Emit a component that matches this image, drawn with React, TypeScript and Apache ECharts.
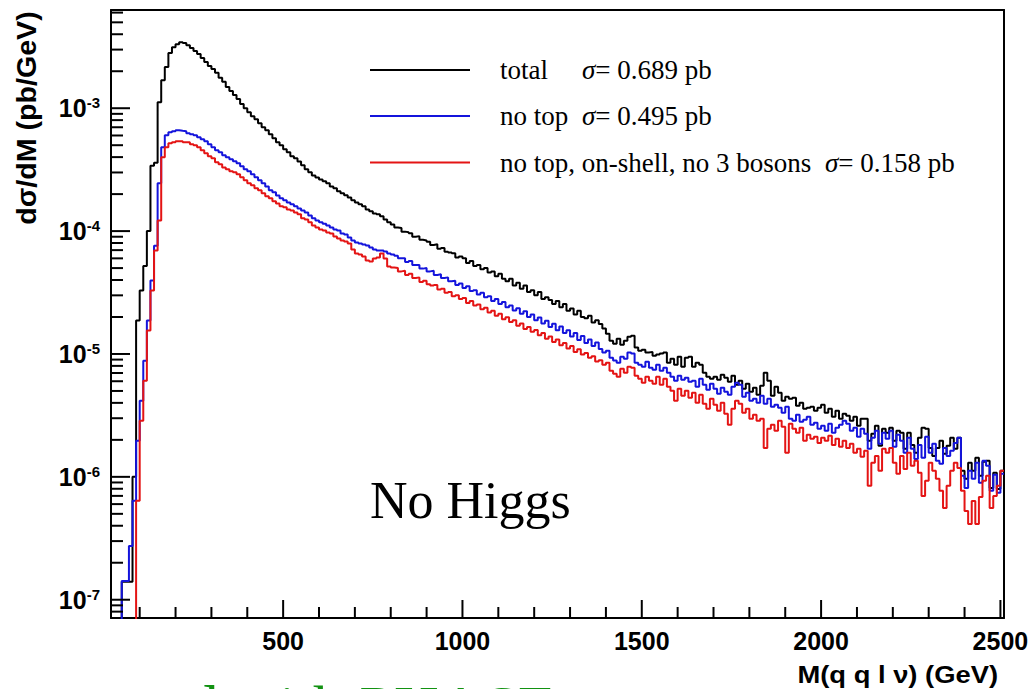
import { useEffect, useRef } from "react";
import * as echarts from "echarts";

// Differential cross sections dσ/dM, one value per 10 GeV bin starting at 20 GeV.
// Values are tabulated in units of 1e-6 pb/GeV.
const UNIT = 1e-6;
const BIN_LOW = 20;
const BIN_WIDTH = 10;

const totalXsec = [
  0.03, 0.03, 0.03, 0.14, 0.14, 0.14, 1.0, 18.7, 32.8, 52,
  100, 340, 360, 1120, 1690, 2160, 2810, 3140, 3320, 3450,
  3390, 3260, 3090, 2920, 2760, 2560, 2380, 2210, 2090, 1940,
  1770, 1640, 1490, 1380, 1280, 1190, 1080, 1000, 928, 861,
  814, 755, 700, 662, 614, 570, 528, 500, 463, 438,
  406, 391, 369, 343, 318, 301, 284, 273, 263, 254,
  245, 231, 223, 211, 203, 196, 188, 178, 171, 165,
  159, 150, 145, 139, 137, 132, 124, 118, 113, 107,
  106, 99, 98, 96, 90, 91, 85, 84, 82, 77,
  78, 72, 73, 68, 67, 66, 61, 62, 60, 55,
  57, 52, 53, 49, 50, 46, 47, 43, 45, 41,
  39, 41, 36, 38, 34, 36, 32, 33, 30, 32,
  28, 29, 27.5, 25.5, 27, 24, 25.5, 22.5, 23.5, 21,
  22.5, 20, 19.5, 20.5, 18, 18.8, 17.5, 16.1, 14.6, 12.8,
  12.1, 13.3, 11.9, 12.8, 13.8, 14.1, 11.3, 10.6, 10.8, 10.3,
  10.4, 9.69, 9.88, 10.1, 10.3, 8.5, 9.16, 8.18, 9.51, 7.88,
  9.33, 9.51, 7.88, 8.5, 8.18, 7.04, 6.53, 6.29, 6.53, 6.18,
  6.78, 6.41, 5.95, 6.66, 5.62, 6.06, 5.22, 5.73, 4.93, 5.32,
  4.66, 5.52, 7.04, 6.06, 4.57, 5.42, 4.84, 4.17, 4.49, 4.32,
  4.41, 3.79, 4.01, 3.58, 3.65, 3.72, 3.45, 3.65, 3.86, 3.32,
  3.58, 3.08, 3.45, 2.97, 3.26, 3.14, 2.86, 3.08, 2.6, 2.97,
  2.97, 1.97, 2.24, 2.6, 1.79, 2.46, 2.28, 2.51, 1.97, 2.37,
  2.28, 1.69, 2.28, 1.82, 1.57, 2.08, 2.51, 2.46, 1.72, 1.48,
  1.72, 1.97, 1.54, 1.79, 2.08, 1.69, 2.08, 1.12, 0.963, 1.3,
  1.12, 1.43, 1.02, 1.33, 1.35, 0.813, 1.08, 0.798, 1.12,
];

const noTop = [
  0.03, 0.03, 0.03, 0.142, 0.142, 0.274, 0.64, 1.97, 4.17, 8.8,
  18.7, 39.6, 76, 245, 481, 603, 638, 649, 662, 655,
  649, 626, 614, 603, 580, 559, 538, 509, 481, 455,
  438, 414, 399, 384, 370, 356, 337, 318, 307, 290,
  274, 259, 245, 231, 215, 207, 195, 185, 178, 171,
  165, 159, 153, 147, 142, 134, 127, 122, 118, 115,
  111, 107, 103, 101, 95.7, 94.0, 88.8, 83.9, 80.8, 79.3,
  77.9, 76.4, 73.6, 70.9, 69.6, 69.6, 68.3, 65.8, 64.6, 63,
  60, 60, 56, 57, 53, 53, 49.5, 50, 47, 47.5,
  44, 44.5, 41.5, 42, 39, 39.5, 36.5, 37.5, 34.5, 35.5,
  32.5, 33, 30.5, 31.5, 29, 29.5, 27, 28, 25.5, 26.5,
  24, 24.8, 22.6, 23.6, 21.2, 22.3, 20.0, 21.0, 18.8, 19.8,
  17.7, 18.6, 16.6, 17.6, 15.6, 16.7, 14.8, 15.6, 13.9, 14.8,
  13.0, 14.0, 12.3, 13.1, 11.6, 12.4, 11.0, 10.3, 10.6, 9.33,
  8.83, 8.5, 9.51, 9.16, 10.3, 10.1, 8.5, 8.18, 7.88, 8.66,
  7.74, 7.45, 8.18, 7.31, 7.74, 7.04, 6.53, 6.06, 6.66, 6.18,
  6.41, 5.95, 6.06, 5.42, 6.29, 5.62, 5.12, 5.73, 5.22, 4.75,
  5.32, 4.93, 4.66, 5.42, 5.84, 5.62, 4.49, 4.84, 4.17, 4.32,
  4.01, 4.57, 3.94, 4.32, 3.72, 3.86, 3.65, 3.32, 3.72, 2.97,
  2.86, 3.2, 2.81, 2.92, 3.08, 2.65, 2.76, 2.46, 2.6, 2.37,
  2.7, 2.28, 2.51, 2.65, 2.86, 2.7, 2.37, 2.51, 2.12, 2.46,
  2.24, 1.69, 2.08, 2.37, 1.86, 2.28, 2.04, 2.37, 1.76, 2.2,
  1.97, 1.57, 2.08, 1.69, 1.4, 1.82, 1.43, 2.12, 1.57, 1.86,
  1.35, 1.28, 1.72, 1.48, 1.63, 1.89, 2.08, 1.02, 0.813, 1.12,
  0.963, 1.3, 0.894, 1.35, 1.23, 0.769, 1.04, 0.741, 1.06,
];

const noTopOnShell = [
  0.03, 0.03, 0.03, 0.03, 0.03, 0.03, 0.03, 0.64, 2.86, 6.06,
  15.5, 32.8, 69.6, 122, 399, 481, 518, 528, 538, 538,
  528, 528, 509, 500, 481, 455, 430, 406, 391, 363,
  350, 330, 318, 307, 301, 290, 274, 259, 245, 236,
  223, 215, 203, 192, 185, 175, 168, 159, 156, 150,
  147, 142, 137, 127, 124, 118, 111, 107, 103, 101,
  97.5, 95.7, 90.4, 87.1, 83.9, 82.4, 79.3, 70.9, 65.8, 64.6,
  62.2, 57.7, 56.6, 59.9, 61.0, 65.8, 59.9, 51.5, 50.6, 50,
  47, 47.5, 44, 45, 41.5, 42, 38.5, 39.5, 37, 36,
  36.5, 33.5, 34, 31.5, 32, 29.5, 30, 28, 28.5, 26,
  27, 24.8, 25.3, 23.1, 23.8, 21.8, 22.5, 20.5, 21.2, 19.2,
  19.9, 18.2, 18.8, 17.0, 17.7, 16.0, 16.6, 15.2, 15.7, 14.2,
  14.8, 13.3, 13.9, 12.5, 13.1, 11.8, 12.3, 11.1, 11.6, 10.4,
  10.9, 9.9, 10.2, 9.3, 9.6, 8.7, 8.9, 8.18, 8.5, 7.31,
  6.91, 6.53, 7.59, 7.04, 7.88, 7.74, 6.66, 6.29, 5.84, 6.53,
  6.06, 5.73, 6.53, 5.62, 6.29, 5.42, 5.02, 4.17, 5.22, 4.57,
  5.02, 4.41, 4.84, 4.01, 4.66, 3.94, 3.58, 4.32, 3.86, 3.45,
  4.01, 3.26, 2.65, 3.58, 4.17, 3.94, 3.32, 3.58, 2.97, 3.2,
  2.86, 2.97, 1.72, 2.46, 2.65, 2.37, 2.86, 2.56, 1.57, 2.7,
  2.46, 2.28, 2.51, 1.97, 2.2, 2.04, 2.12, 1.89, 2.08, 1.97,
  2.16, 1.82, 2.04, 1.76, 1.97, 1.72, 1.86, 1.57, 1.69, 1.46,
  1.63, 0.845, 1.3, 1.48, 1.12, 1.69, 1.57, 1.72, 1.3, 1.06,
  1.48, 1.16, 1.57, 1.23, 1.35, 1.08, 0.7, 0.928, 1.3, 1.12,
  0.963, 0.769, 0.559, 0.845, 1.12, 1.3, 1.18, 0.769, 0.528, 0.414,
  0.637, 0.414, 0.687, 0.928, 1.02, 0.559, 0.7, 0.845, 1.12,
];

const seriesNames = ["total", "no top", "no top, on-shell, no 3 bosons"];
const sigmaLabels = ["0.689", "0.495", "0.158"];
const seriesColors = ["#000000", "#1414dc", "#e41414"];
const seriesValues = [totalXsec, noTop, noTopOnShell];

const X_MIN = 20;
const X_MAX = 2510;
const Y_MIN = 7.1e-8;
const Y_MAX = 6.3e-3;

const CHART_W = 1033;
const CHART_H = 689;
const GRID = { left: 111, right: 29, top: 10, bottom: 71 };

const SANS = "'Liberation Sans', Arial, sans-serif";
const SERIF = "'Liberation Serif', 'Times New Roman', serif";

// Histogram bins -> step points (lower edge of every bin plus the final upper edge).
function toSteps(values: number[]): number[][] {
  const pts = values.map((v, i) => [BIN_LOW + i * BIN_WIDTH, v * UNIT]);
  pts.push([BIN_LOW + values.length * BIN_WIDTH, values[values.length - 1] * UNIT]);
  return pts;
}

// Tick positions in the ROOT style: x every 100 GeV (labelled every 500),
// y at every decade with minor ticks at 2..9 x 10^n.
const xMajorTicks: number[] = [];
const xMinorTicks: number[] = [];
for (let m = 100; m < X_MAX; m += 100) {
  if (m % 500 === 0) xMajorTicks.push(m);
  else xMinorTicks.push(m);
}
const yMajorTicks: number[] = [];
const yMinorTicks: number[] = [];
for (let e = -8; e <= -3; e++) {
  const d = Math.pow(10, e);
  if (d > Y_MIN && d < Y_MAX) yMajorTicks.push(d);
  for (let k = 2; k <= 9; k++) {
    const v = k * d;
    if (v > Y_MIN && v < Y_MAX) yMinorTicks.push(v);
  }
}

const TICK_LEN = { xMajor: 18, xMinor: 11, yMajor: 19, yMinor: 12 };

// Same mappings as the grid's linear x axis and log10 y axis.
const PLOT_W = CHART_W - GRID.left - GRID.right;
const PLOT_H = CHART_H - GRID.top - GRID.bottom;
const xToPx = (x: number) => GRID.left + ((x - X_MIN) / (X_MAX - X_MIN)) * PLOT_W;
const yToPx = (y: number) =>
  GRID.top + ((Math.log10(Y_MAX) - Math.log10(y)) / (Math.log10(Y_MAX) - Math.log10(Y_MIN))) * PLOT_H;

function tickGraphics(): any[] {
  const seg = (x1: number, y1: number, x2: number, y2: number) => ({
    type: "line",
    z: 10,
    shape: { x1, y1, x2, y2 },
    style: { stroke: "#000", lineWidth: 2 },
  });
  const out: any[] = [];
  const yBottom = yToPx(Y_MIN);
  const xLeft = xToPx(X_MIN);
  xMajorTicks.forEach((m) => out.push(seg(xToPx(m), yBottom, xToPx(m), yBottom - TICK_LEN.xMajor)));
  xMinorTicks.forEach((m) => out.push(seg(xToPx(m), yBottom, xToPx(m), yBottom - TICK_LEN.xMinor)));
  yMajorTicks.forEach((v) => out.push(seg(xLeft, yToPx(v), xLeft + TICK_LEN.yMajor, yToPx(v))));
  yMinorTicks.forEach((v) => out.push(seg(xLeft, yToPx(v), xLeft + TICK_LEN.yMinor, yToPx(v))));
  return out;
}

// Legend rows drawn as graphic elements (line sample + rich text).
const LEGEND_ROWS_Y = [70, 116, 162.5];
const LEGEND_LINE_X = [370, 470];
const LEGEND_TEXT_X = 500;
const LEGEND_NAME_WIDTH = [82, 82, 325];

function legendGraphics() {
  const base = { fontFamily: SERIF, fontSize: 27, lineHeight: 30, fill: "#000" };
  const out: any[] = [];
  seriesNames.forEach((name, i) => {
    const y = LEGEND_ROWS_Y[i];
    out.push({
      type: "line",
      shape: { x1: LEGEND_LINE_X[0], y1: y, x2: LEGEND_LINE_X[1], y2: y },
      style: { stroke: seriesColors[i], lineWidth: 2 },
    });
    out.push({
      type: "text",
      x: LEGEND_TEXT_X,
      y,
      style: {
        text: `{n|${name}}{sg|σ}{v|= ${sigmaLabels[i]} pb}`,
        ...base,
        align: "left",
        verticalAlign: "middle",
        rich: {
          n: { ...base, width: LEGEND_NAME_WIDTH[i] },
          sg: { ...base, fontStyle: "italic" },
          v: { ...base },
        },
      },
    });
  });
  return out;
}

function textGraphics(): any[] {
  return [
    {
      type: "text",
      x: 27,
      y: 118,
      rotation: Math.PI / 2,
      scaleX: 1.06,
      style: {
        text: "dσ/dM (pb/GeV)",
        fontFamily: SANS,
        fontWeight: "bold",
        fontSize: 27,
        fill: "#000",
        align: "center",
        verticalAlign: "middle",
      },
    },
    {
      type: "text",
      x: 998,
      y: 675,
      scaleX: 1.14,
      style: {
        text: "M(q q l ν) (GeV)",
        fontFamily: SANS,
        fontWeight: "bold",
        fontSize: 24,
        fill: "#000",
        align: "right",
        verticalAlign: "middle",
      },
    },
    {
      type: "text",
      x: 370,
      y: 500,
      style: {
        text: "No Higgs",
        fontFamily: SERIF,
        fontSize: 52,
        fill: "#000",
        align: "left",
        verticalAlign: "middle",
      },
    },
    {
      type: "text",
      x: 556,
      y: 707,
      style: {
        text: "computed with PHASE",
        fontFamily: SERIF,
        fontSize: 62,
        fill: "#129212",
        align: "right",
        verticalAlign: "middle",
      },
    },
  ];
}

function buildOption(): echarts.EChartsOption {
  const histSeries = seriesValues.map((vals, i) => ({
    type: "line" as const,
    name: seriesNames[i],
    data: toSteps(vals),
    step: "end" as const,
    showSymbol: false,
    symbol: "none",
    color: seriesColors[i],
    itemStyle: { color: seriesColors[i] },
    lineStyle: { color: seriesColors[i], width: 2 },
    clip: true,
    z: 3 + i,
  }));

  const frameLine = { show: true, onZero: false, lineStyle: { color: "#000", width: 2 } };

  return {
    animation: false,
    backgroundColor: "#ffffff",
    grid: { ...GRID },
    xAxis: [
      {
        type: "value",
        min: X_MIN,
        max: X_MAX,
        splitNumber: 5,
        position: "bottom",
        axisLine: frameLine,
        axisTick: { show: false },
        splitLine: { show: false },
        axisLabel: {
          showMinLabel: false,
          showMaxLabel: false,
          margin: 10,
          color: "#000",
          fontFamily: SANS,
          fontWeight: "bold",
          fontSize: 25,
          formatter: (v: number) => String(v),
        },
      },
      {
        type: "value",
        min: 0,
        max: 1,
        position: "top",
        axisLine: frameLine,
        axisTick: { show: false },
        axisLabel: { show: false },
        splitLine: { show: false },
      },
    ],
    yAxis: [
      {
        type: "log",
        logBase: 10,
        min: Y_MIN,
        max: Y_MAX,
        position: "left",
        axisLine: frameLine,
        axisTick: { show: false },
        splitLine: { show: false },
        axisLabel: {
          showMinLabel: false,
          showMaxLabel: false,
          margin: 11,
          formatter: (v: number) => `{b|10}{s|${Math.round(Math.log10(v))}}`,
          rich: {
            b: { fontFamily: SANS, fontWeight: "bold", fontSize: 25, lineHeight: 26, color: "#000" },
            s: { fontFamily: SANS, fontWeight: "bold", fontSize: 15, lineHeight: 15, color: "#000", verticalAlign: "top" },
          },
        },
      },
      {
        type: "value",
        min: 0,
        max: 1,
        position: "right",
        axisLine: frameLine,
        axisTick: { show: false },
        axisLabel: { show: false },
        splitLine: { show: false },
      },
    ],
    series: histSeries,
    graphic: [...tickGraphics(), ...legendGraphics(), ...textGraphics()],
  } as echarts.EChartsOption;
}

export default function App() {
  const ref = useRef<HTMLDivElement>(null);
  useEffect(() => {
    if (!ref.current) return;
    const chart = echarts.init(ref.current, undefined, { renderer: "svg" });
    chart.setOption(buildOption());
    return () => chart.dispose();
  }, []);
  return (
    <div
      ref={ref}
      style={{ position: "fixed", left: 0, top: 0, width: CHART_W, height: CHART_H, background: "#fff" }}
    />
  );
}
